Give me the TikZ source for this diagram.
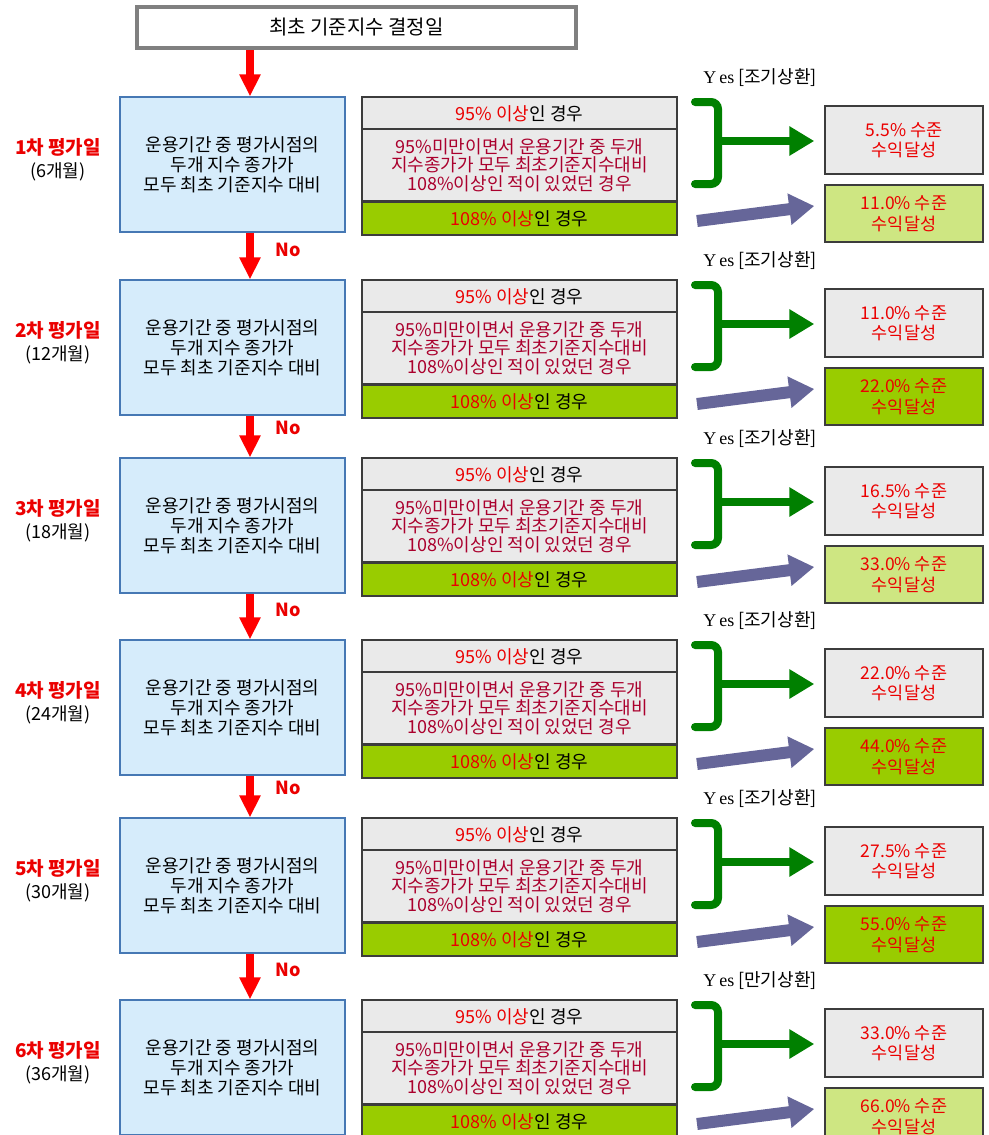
\documentclass[tikz,border=0pt]{standalone}
\usepackage{fontspec}
\setmainfont{Noto Sans CJK KR}
\newfontfamily\ser{Liberation Serif}
\usetikzlibrary{arrows.meta}
\definecolor{bluefill}{RGB}{214,236,251}
\definecolor{blueline}{RGB}{70,120,180}
\definecolor{greyfill}{RGB}{234,234,234}
\definecolor{darkline}{RGB}{60,60,60}
\definecolor{greenfill}{RGB}{153,204,0}
\definecolor{dotgreen}{RGB}{206,230,130}
\definecolor{crimson}{RGB}{170,0,45}
\definecolor{txtred}{RGB}{235,0,0}
\definecolor{brgreen}{RGB}{0,128,0}
\definecolor{purp}{RGB}{102,102,153}
\definecolor{topline}{RGB}{128,128,128}
\begin{document}
\begin{tikzpicture}[x=1pt,y=-1pt,
  box/.style={draw, inner sep=0pt, align=center, font=\fontsize{18}{20}\selectfont},
  bluebox/.style={box, fill=bluefill, draw=blueline, line width=1.2pt, minimum width=225pt, minimum height=135pt},
  condtop/.style={box, fill=greyfill, draw=darkline, line width=1.2pt, minimum width=315pt, minimum height=33pt},
  condmid/.style={condtop, minimum height=72pt, text=crimson, font=\fontsize{18}{18.5}\selectfont},
  condbot/.style={condtop, fill=greenfill},
  resbox/.style={box, draw=darkline, line width=1.5pt, minimum width=158pt, text=txtred, font=\fontsize{17.5}{20.5}\selectfont},
  lbl/.style={inner sep=0pt, align=center, font=\fontsize{18}{23}\selectfont},
  redarr/.style={draw=red, line width=8pt, -{Triangle[length=22pt,width=20pt]}},
  garr/.style={draw=brgreen, line width=8pt, -{Triangle[length=25pt,width=28pt]}},
  parr/.style={draw=purp, line width=12pt, -{Triangle[length=25pt,width=30pt]}},
  bracket/.style={draw=brgreen, line width=8pt, rounded corners=7pt, line cap=round}
]
\useasboundingbox (0,0) rectangle (988,1135);
\clip (0,0) rectangle (988,1135);
\fill[white] (0,0) rectangle (988,1135);
\node[box, draw=topline, line width=4pt, fill=white, minimum width=439pt, minimum height=41pt, font=\fontsize{20}{22}\selectfont] (top) at (356.5,27.5) {최초 기준지수 결정일};
\coordinate (ax) at (250,0);
\foreach \T/\n/\m/\y/\a/\b/\s in {97/1/6/조기상환/5.5/11.0/dotgreen,
  280/2/12/조기상환/11.0/22.0/greenfill,
  458/3/18/조기상환/16.5/33.0/dotgreen,
  640/4/24/조기상환/22.0/44.0/greenfill,
  818/5/30/조기상환/27.5/55.0/greenfill,
  1000/6/36/만기상환/33.0/66.0/dotgreen}{
  \node[bluebox] (b\n) at (232.5,\T+67.5) {운용기간 중 평가시점의\\두개 지수 종가가\\모두 최초 기준지수 대비};
  \node[lbl] (l\n) at (58,\T+63) {{\color{txtred}\bfseries\fontsize{19}{23}\selectfont {\n}차 평가일}\\({\m}개월)};
  \node[condtop] (ca\n) at (519.5,\T+16.5) {{\color{txtred}95\% 이상}인 경우};
  \node[condmid] (cm\n) at (519.5,\T+68) {95\%미만이면서 운용기간 중 두개\\지수종가가 모두 최초기준지수대비\\108\%이상인 적이 있었던 경우};
  \node[condbot] (cb\n) at (519.5,\T+121.5) {{\color{txtred}108\% 이상}인 경우};
  \node[resbox, fill=greyfill, minimum height=68pt] (ra\n) at (904,\T+43) {{\a}\% 수준\\수익달성};
  \node[resbox, fill=\s, minimum height=57pt] (rb\n) at (904,\T+116.5) {{\b}\% 수준\\수익달성};
  \node[lbl, font=\fontsize{18}{20}\selectfont] (y\n) at (760,\T-19) {{\ser Y\,es} [{\y}]};
  \draw[bracket] (695,\T+5) -- (718,\T+5) -- (718,\T+87) -- (695,\T+87);
  \coordinate (g\n) at (718,\T+44);
  \draw[garr, shorten >=10pt] (g\n) -- (g\n -| ra\n.west);
  \coordinate (p\n) at (697,\T+124);
  \draw[parr] (p\n) -- ([shift={(-10pt,7.5pt)}]rb\n.west);
  \ifnum\n=1
    \draw[redarr] (ax |- top.south) -- (ax |- b1.north);
  \else
    \pgfmathtruncatemacro\p{\n-1}
    \draw[redarr] (ax |- b\p.south) -- (ax |- b\n.north);
    \node[lbl, text=txtred, font=\fontsize{18}{20}\selectfont\bfseries] (no\n) at (288,\T-30) {No};
  \fi
}
\end{tikzpicture}
\end{document}
